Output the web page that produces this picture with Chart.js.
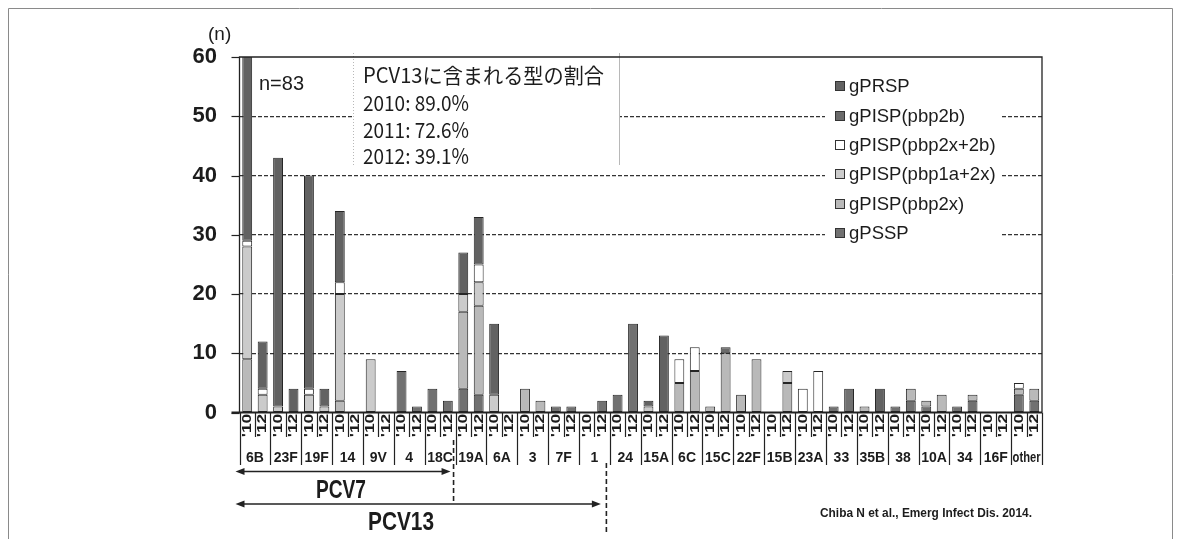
<!DOCTYPE html>
<html>
<head>
<meta charset="utf-8">
<script src="https://cdn.jsdelivr.net/npm/chart.js@4.4.1/dist/chart.umd.min.js"></script>
<style>
  html, body { margin: 0; padding: 0; background: #fff; }
  #wrap { width: 1182px; height: 539px; position: relative; }
</style>
</head>
<body>
<div id="wrap"><canvas id="c" width="1182" height="539"></canvas></div>
<script>
// Serotype groups; each group has one bar per year
const serotypes = ['6B','23F','19F','14','9V','4','18C','19A','6A','3','7F','1','24','15A','6C','15C','22F','15B','23A','33','35B','38','10A','34','16F','other'];
const yearLabels = ["'10", "'12"];
const yTicks = [0, 10, 20, 30, 40, 50, 60];

// Isolate counts per bar (6B '10, 6B '12, 23F '10, ...), stacked bottom to top
const gPSSP     = [0,0,0,0,0,0,0,0,0,0, 7,1,4,2,4,3,0,0,0,0, 1,1,0,2,3,15,0,0,0,0, 0,0,0,0,0,0,0,0,1,4, 0,0,1,2,1,0,1,2,0,0, 3,2];
const pbp2x     = [9,0,0,0,0,0,2,0,0,0, 0,0,0,0,13,15,0,0,4,2, 0,0,0,0,0,0,0,0,5,7, 1,10,3,9,0,5,0,0,0,0, 1,0,0,2,1,3,0,1,0,0, 1,2];
const pbp1a2x   = [19,3,1,0,3,1,18,0,9,0, 0,0,0,0,3,4,3,0,0,0, 0,0,0,0,0,0,1,0,0,0, 0,0,0,0,0,2,0,0,0,0, 0,0,0,0,0,0,0,0,0,0, 0,0];
const pbp2x2b   = [1,1,0,0,1,0,2,0,0,0, 0,0,0,0,0,3,0,0,0,0, 0,0,0,0,0,0,0,0,4,4, 0,0,0,0,0,0,4,7,0,0, 0,0,0,0,0,0,0,0,0,0, 1,0];
const pbp2b     = [0,0,0,0,0,0,0,0,0,0, 0,0,0,0,0,0,0,0,0,0, 0,0,0,0,0,0,0,0,0,0, 0,1,0,0,0,0,0,0,0,0, 0,0,0,0,0,0,0,0,0,0, 0,0];
const gPRSP     = [54,8,42,4,36,3,12,0,0,0, 0,0,0,0,7,8,12,0,0,0, 0,0,0,0,0,0,1,13,0,0, 0,0,0,0,0,0,0,0,0,0, 0,4,0,0,0,0,0,0,0,0, 0,0];

const nTotalText = 'n=83';
const boxLines = ['PCV13に含まれる型の割合', '2010: 89.0%', '2011: 72.6%', '2012: 39.1%'];
const citation = 'Chiba N et al., Emerg Infect Dis. 2014.';

const categories = serotypes.flatMap(s => yearLabels.map(y => s + ' ' + y));

const series = [
  { label: 'gPSSP',           data: gPSSP,   color: '#717171' },
  { label: 'gPISP(pbp2x)',    data: pbp2x,   color: '#b9b9b9' },
  { label: 'gPISP(pbp1a+2x)', data: pbp1a2x, color: '#cbcbcb' },
  { label: 'gPISP(pbp2x+2b)', data: pbp2x2b, color: '#ffffff' },
  { label: 'gPISP(pbp2b)',    data: pbp2b,   color: '#6a6a6a' },
  { label: 'gPRSP',           data: gPRSP,   color: '#626262' }
];

const FONT = '"Liberation Sans", Arial, sans-serif';
const INK = '#1c1c1c';

function hText(ctx, text, x, y, maxW) {
  if (maxW) ctx.fillText(text, x, y, maxW); else ctx.fillText(text, x, y);
}

function arrow(ctx, x1, x2, y) {
  ctx.beginPath(); ctx.moveTo(x1 + 6, y); ctx.lineTo(x2 - 6, y); ctx.stroke();
  ctx.beginPath(); ctx.moveTo(x1, y); ctx.lineTo(x1 + 9, y - 3.5); ctx.lineTo(x1 + 9, y + 3.5); ctx.closePath(); ctx.fill();
  ctx.beginPath(); ctx.moveTo(x2, y); ctx.lineTo(x2 - 9, y - 3.5); ctx.lineTo(x2 - 9, y + 3.5); ctx.closePath(); ctx.fill();
}

const decor = {
  id: 'decor',
  beforeDraw(chart) {
    const ctx = chart.ctx;
    ctx.save();
    ctx.fillStyle = '#fff';
    ctx.fillRect(0, 0, chart.width, chart.height);
    ctx.restore();
  },
  beforeDatasetsDraw(chart) {
    const ctx = chart.ctx;
    ctx.save();
    // white panels of the note box and the legend
    ctx.fillStyle = '#fff';
    ctx.fillRect(353, 53, 266, 112);
    ctx.fillRect(825, 72, 177, 175);
    ctx.strokeStyle = '#b8b8b8';
    ctx.lineWidth = 1;
    ctx.setLineDash([1, 2]);
    ctx.beginPath(); ctx.moveTo(353.5, 53); ctx.lineTo(353.5, 165); ctx.stroke();
    ctx.setLineDash([]);
    ctx.beginPath(); ctx.moveTo(619.5, 53); ctx.lineTo(619.5, 165); ctx.stroke();
    ctx.restore();
  },
  afterDraw(chart) {
    const ctx = chart.ctx;
    const x = chart.scales.x, y = chart.scales.y;
    const area = chart.chartArea;
    const slot = (area.right - area.left) / categories.length;
    const edge = i => area.left + slot * i;
    const base = y.getPixelForValue(0);
    ctx.save();

    // frame of the figure
    ctx.strokeStyle = '#8a8a8a';
    ctx.lineWidth = 1;
    ctx.beginPath();
    ctx.moveTo(8.5, 545); ctx.lineTo(8.5, 8.5); ctx.lineTo(1172.5, 8.5); ctx.lineTo(1172.5, 545);
    ctx.stroke();

    // plot border and axes
    ctx.strokeStyle = '#222';
    ctx.lineWidth = 1.3;
    ctx.beginPath();
    ctx.moveTo(area.left, base); ctx.lineTo(area.left, area.top); ctx.lineTo(area.right, area.top); ctx.lineTo(area.right, base);
    ctx.stroke();
    ctx.lineWidth = 1.8;
    ctx.beginPath(); ctx.moveTo(area.left - 8, base); ctx.lineTo(area.right, base); ctx.stroke();

    // y tick marks
    ctx.lineWidth = 1.2;
    yTicks.forEach(v => {
      const py = Math.round(y.getPixelForValue(v)) + 0.5;
      ctx.beginPath(); ctx.moveTo(area.left - 8, py); ctx.lineTo(area.left, py); ctx.stroke();
    });

    // x tick marks and group separators
    ctx.lineWidth = 1.2;
    for (let i = 0; i <= categories.length; i++) {
      const px = Math.round(edge(i)) + 0.5;
      const groupEdge = i % yearLabels.length === 0;
      ctx.beginPath(); ctx.moveTo(px, base); ctx.lineTo(px, groupEdge ? 465 : 437); ctx.stroke();
    }

    // year labels, rotated
    ctx.fillStyle = INK;
    ctx.font = 'bold 12px ' + FONT;
    ctx.textAlign = 'center';
    ctx.textBaseline = 'middle';
    categories.forEach((c, i) => {
      const cx = x.getPixelForValue(i);
      ctx.save();
      ctx.translate(cx + 0.5, 425.5);
      ctx.rotate(-Math.PI / 2);
      ctx.scale(1.45, 1);
      ctx.fillText(yearLabels[i % yearLabels.length], 0, 0);
      ctx.restore();
    });

    // serotype labels
    ctx.font = 'bold 14px ' + FONT;
    serotypes.forEach((s, g) => {
      const cx = (x.getPixelForValue(g * 2) + x.getPixelForValue(g * 2 + 1)) / 2;
      ctx.fillText(s, cx, 458, 28);
    });

    // vaccine coverage arrows
    const pcv7End = edge(7 * 2), pcv13End = edge(12 * 2);
    ctx.strokeStyle = '#222'; ctx.fillStyle = '#222';
    ctx.lineWidth = 1.6;
    arrow(ctx, area.left - 4, pcv7End - 5, 471.5);
    arrow(ctx, area.left - 4, pcv13End - 9, 504);
    ctx.setLineDash([5, 3]);
    ctx.lineWidth = 1.6;
    ctx.beginPath(); ctx.moveTo(pcv7End - 2, 440); ctx.lineTo(pcv7End - 2, 502); ctx.stroke();
    ctx.beginPath(); ctx.moveTo(pcv13End - 3.5, 463); ctx.lineTo(pcv13End - 3.5, 532); ctx.stroke();
    ctx.setLineDash([]);
    ctx.fillStyle = INK;
    ctx.font = 'bold 25px ' + FONT;
    ctx.fillText('PCV7', 341, 491, 50);
    ctx.fillText('PCV13', 401, 523.5, 66);

    // legend (top entry is the top of the stack)
    ctx.textAlign = 'left';
    ctx.font = '18.5px ' + FONT;
    const legendY = [233, 204, 174, 145, 116, 86];
    chart.data.datasets.forEach((ds, i) => {
      const ly = legendY[i];
      ctx.fillStyle = ds.backgroundColor;
      ctx.fillRect(835, ly - 5, 10, 10);
      ctx.strokeStyle = '#333'; ctx.lineWidth = 1;
      ctx.strokeRect(835.5, ly - 4.5, 9, 9);
      ctx.fillStyle = INK;
      ctx.fillText(ds.label, 849, ly + 1);
    });

    // note box text
    ctx.font = '21px "Noto Sans CJK JP", sans-serif';
    const rowsY = [75, 103.5, 130, 156];
    boxLines.forEach((t, i) => hText(ctx, t, 363, rowsY[i], i === 0 ? 241 : 106));

    // sample size, unit, source
    ctx.font = '20px ' + FONT;
    ctx.fillText(nTotalText, 259, 84);
    ctx.font = '19px ' + FONT;
    ctx.fillText('(n)', 208, 35);
    ctx.font = 'bold 13px ' + FONT;
    ctx.fillText(citation, 820, 513, 212);

    ctx.restore();
  }
};

new Chart(document.getElementById('c'), {
  type: 'bar',
  data: {
    labels: categories,
    datasets: series.map(s => ({
      label: s.label,
      data: s.data.map(v => v === 0 ? null : v),
      backgroundColor: s.color,
      borderColor: '#262626',
      borderWidth: 1,
      borderSkipped: false,
      barPercentage: 0.64,
      categoryPercentage: 1.0
    }))
  },
  options: {
    responsive: false,
    animation: false,
    events: [],
    layout: { padding: { left: 0, top: 57, right: 140, bottom: 0 } },
    plugins: { legend: { display: false }, tooltip: { enabled: false } },
    scales: {
      x: {
        stacked: true,
        grid: { display: false, drawTicks: false },
        border: { display: false },
        ticks: { display: false },
        afterFit: s => { s.height = 126.5; }
      },
      y: {
        stacked: true,
        min: 0, max: 60,
        afterBuildTicks: s => { s.ticks = yTicks.map(v => ({ value: v })); },
        ticks: {
          padding: 22.5,
          color: INK,
          font: { family: FONT, size: 22, weight: 'bold' }
        },
        grid: {
          drawTicks: false,
          lineWidth: 1.2,
          color: c => (c.tick && (c.tick.value === 0 || c.tick.value === 60)) ? 'rgba(0,0,0,0)' : '#333'
        },
        border: { display: false, dash: [4, 2] },
        afterFit: s => { s.width = 239.5; }
      }
    }
  },
  plugins: [decor]
});
</script>
</body>
</html>
